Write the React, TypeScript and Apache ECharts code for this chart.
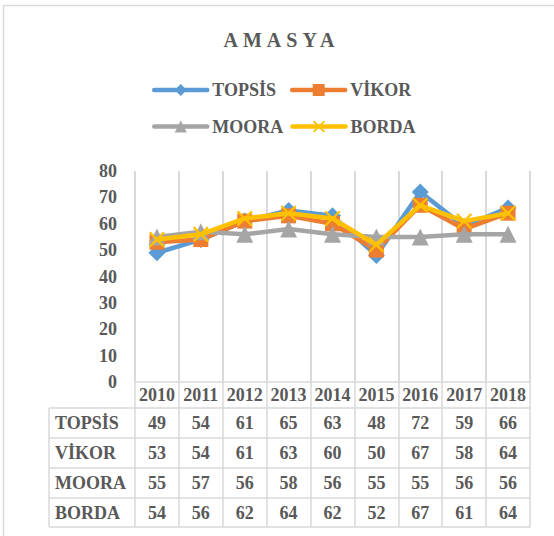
import React, { useEffect, useRef } from "react";
import * as echarts from "echarts";

const years = ["2010", "2011", "2012", "2013", "2014", "2015", "2016", "2017", "2018"];
const seriesNames = ["TOPSİS", "VİKOR", "MOORA", "BORDA"];
const topsis = [49, 54, 61, 65, 63, 48, 72, 59, 66];
const vikor = [53, 54, 61, 63, 60, 50, 67, 58, 64];
const moora = [55, 57, 56, 58, 56, 55, 55, 56, 56];
const borda = [54, 56, 62, 64, 62, 52, 67, 61, 64];
const seriesValues = [topsis, vikor, moora, borda];
const colors = ["#5B9BD5", "#ED7D31", "#A5A5A5", "#FFC000"];
const titleText = "AMASYA";
const yMin = 0;
const yMax = 80;
const yStep = 10;

const FONT = "Liberation Serif";
const TXT = "#595959";
const LINE = "#D9D9D9";
const XMARK = "path://M0,1L1,0L5,4L9,0L10,1L6,5L10,9L9,10L5,6L1,10L0,9L4,5Z";
const symbols = ["diamond", "rect", "triangle", XMARK];
const symbolSizes = [17, 15, 17, 16];

// layout
const GRID_L = 135;
const GRID_R = 24;
const GRID_T = 171;
const AXIS_Y = 382;
const ROW_LINES = [408, 438, 468, 498, 527];
const TABLE_L = 49;
const FS = 18;

export default function App() {
  const ref = useRef<HTMLDivElement>(null);
  useEffect(() => {
    if (!ref.current) return;
    const chart = echarts.init(ref.current, null, { renderer: "svg" });
    const txt = { fontFamily: FONT, fontWeight: "bold" as const, fontSize: FS, color: TXT };

    const xAxes: any[] = [];
    xAxes.push({
      type: "category",
      gridIndex: 0,
      position: "bottom",
      data: years,
      boundaryGap: true,
      axisLine: { show: true, lineStyle: { color: LINE, width: 1.5 } },
      axisTick: { show: true, interval: 0, length: ROW_LINES[0] - AXIS_Y, lineStyle: { color: LINE, width: 1.5 } },
      splitLine: { show: true, interval: 0, lineStyle: { color: LINE, width: 2 } },
      axisLabel: { ...txt, interval: 0, margin: 13, verticalAlign: "middle" },
    });
    seriesValues.forEach((vals, i) => {
      const top = ROW_LINES[i];
      const h = ROW_LINES[i + 1] - top;
      xAxes.push({
        type: "category",
        gridIndex: 0,
        position: "bottom",
        offset: top - AXIS_Y,
        data: years,
        boundaryGap: true,
        axisLine: { show: true, lineStyle: { color: LINE, width: 1.5 } },
        axisTick: { show: true, interval: 0, length: h, lineStyle: { color: LINE, width: 1.5 } },
        splitLine: { show: false },
        axisLabel: {
          ...txt,
          interval: 0,
          margin: h / 2,
          verticalAlign: "middle",
          formatter: (_v: string, idx: number) => String(vals[idx]),
        },
      });
    });
    xAxes.push({
      type: "category",
      gridIndex: 0,
      position: "bottom",
      offset: ROW_LINES[4] - AXIS_Y,
      data: years,
      boundaryGap: true,
      axisLine: { show: true, lineStyle: { color: LINE, width: 1.5 } },
      axisTick: { show: false },
      axisLabel: { show: false },
      splitLine: { show: false },
    });

    const graphics: any[] = [
      {
        type: "rect",
        shape: { x: 3.5, y: 5.5, width: 600, height: 600 },
        style: { fill: "none", stroke: LINE, lineWidth: 1.5 },
        silent: true,
      },
      {
        type: "text",
        x: 281.5,
        y: 39.5,
        style: {
          text: titleText,
          font: `bold 20px "${FONT}"`,
          fill: "#595958",
          align: "center",
          verticalAlign: "middle",
        },
      },
    ];
    ROW_LINES.forEach((y) => {
      graphics.push({
        type: "line",
        shape: { x1: TABLE_L, y1: y, x2: GRID_L, y2: y },
        style: { stroke: LINE, lineWidth: 1.5 },
      });
    });
    graphics.push({
      type: "line",
      shape: { x1: TABLE_L, y1: ROW_LINES[0], x2: TABLE_L, y2: ROW_LINES[4] },
      style: { stroke: LINE, lineWidth: 1.5 },
    });
    seriesNames.forEach((name, i) => {
      graphics.push({
        type: "text",
        x: 55,
        y: (ROW_LINES[i] + ROW_LINES[i + 1]) / 2,
        style: {
          text: name,
          font: `bold ${FS}px "${FONT}"`,
          fill: TXT,
          verticalAlign: "middle",
          align: "left",
        },
      });
    });

    const legendBase = {
      left: 152,
      padding: 0,
      itemWidth: 53,
      itemHeight: 15,
      textStyle: { ...txt },
      lineStyle: { width: 4.5, cap: "round" },
    };

    chart.setOption({
      animation: false,
      legend: [
        { ...legendBase, data: seriesNames.slice(0, 2), top: 81, itemGap: 14 },
        { ...legendBase, data: seriesNames.slice(2, 4), top: 117.5, itemGap: 7 },
      ],
      grid: { left: GRID_L, right: GRID_R, top: GRID_T, bottom: 536 - AXIS_Y },
      xAxis: xAxes,
      yAxis: {
        type: "value",
        min: yMin,
        max: yMax,
        interval: yStep,
        axisLine: { show: false },
        axisTick: { show: false },
        splitLine: { show: false },
        axisLabel: { ...txt, margin: 18 },
      },
      series: seriesNames.map((name, i) => ({
        name,
        type: "line",
        xAxisIndex: 0,
        yAxisIndex: 0,
        data: seriesValues[i],
        symbol: symbols[i],
        symbolSize: symbolSizes[i],
        lineStyle: { color: colors[i], width: 4.5, cap: "round", join: "round" },
        itemStyle: { color: colors[i] },
        z: 2 + i,
      })),
      graphic: graphics,
    });
    return () => chart.dispose();
  }, []);

  return (
    <>
      <style>{'text[fill="#595958"], text[style*="#595958"] { letter-spacing: 5px; }'}</style>
      <div ref={ref} style={{ position: "absolute", left: 0, top: 0, width: 554, height: 536 }} />
    </>
  );
}
